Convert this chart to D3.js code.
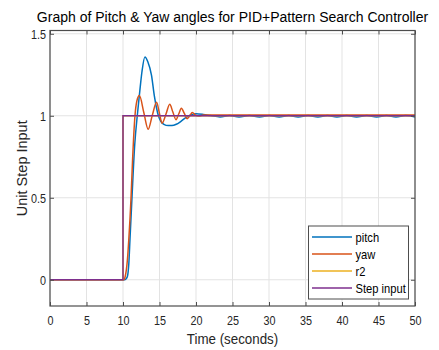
<!DOCTYPE html>
<html><head><meta charset="utf-8">
<script src="https://cdn.jsdelivr.net/npm/d3@7"></script>
<style>body{margin:0;background:#fff}svg{display:block}text{font-family:"Liberation Sans",Arial,sans-serif}</style>
</head><body>
<svg id="c" width="439" height="350"></svg>
<script>
const xTicks=[0,5,10,15,20,25,30,35,40,45,50];
const yTicks=[0,0.5,1,1.5];
const yTickLabels=["0","0.5","1","1.5"];
const seriesNames=["pitch","yaw","r2","Step input"];
const seriesColors=["#0072BD","#D95319","#EDB120","#7E2F8E"];

const pitchT=[0,10.2,10.4,10.6,10.8,10.96,11.23,11.6,12.0,12.3,12.6,13.0,13.4,13.9,14.3,14.6,14.85,15.2,15.6,16.2,16.7,17.3,17.9,18.5,19.2,20.0,21.0,22.0,23.3,24.6,25.9,27.3,28.7,30.05,31.4,32.7,34.0,35.35,36.7,38.0,39.3,40.65,42.0,43.4,44.75,46.1,47.4,48.7,50];
const pitchV=[0,0,0.005,0.02,0.1,0.25,0.5,0.82,1.02,1.15,1.27,1.359,1.33,1.248,1.12,1.046,1.0,0.965,0.948,0.94,0.94,0.948,0.965,0.985,1.003,1.012,1.008,1.001,0.993,1.001,0.993,1.001,0.993,1.001,0.993,1.001,0.993,1.001,0.993,1.001,0.993,1.001,0.993,1.001,0.993,1.001,0.993,1.001,0.993];

const yawT=[0,10.1,10.3,10.6,10.8,11.1,11.3,11.64,11.9,12.25,12.85,13.45,14.0,14.6,14.98,15.35,15.9,16.4,16.83,17.26,17.63,18.0,18.4,18.8,19.15,19.5,19.9,20.4,21.0,50];
const yawV=[0,0,0.02,0.12,0.25,0.5,0.72,1.0,1.09,1.123,1.02,0.918,1.0,1.082,1.018,0.955,1.012,1.07,1.023,0.976,1.011,1.046,1.014,0.982,1.0,1.02,1.005,0.998,1.004,1.004];

const r2T=[0,10,10,50];
const r2V=[0,0,1,1];
const stepT=[0,10,10,50];
const stepV=[0,0,1,1];

const svg=d3.select("#c");
const L=50,R=415,T=30.5,B=306;
const x=d3.scaleLinear().domain([0,50]).range([L,R]);
const y=d3.scaleLinear().domain([-0.16,1.52]).range([B,T]);
const axisCol="#4d4d4d";

svg.append("rect").attr("x",L).attr("y",T).attr("width",R-L).attr("height",B-T).attr("fill","#fff");
const g=svg.append("g");
g.selectAll(".gx").data(xTicks).enter().append("line")
 .attr("x1",d=>x(d)).attr("x2",d=>x(d)).attr("y1",T).attr("y2",B)
 .attr("stroke","#e3e3e3").attr("stroke-width",1);
g.selectAll(".gy").data(yTicks).enter().append("line")
 .attr("y1",d=>y(d)).attr("y2",d=>y(d)).attr("x1",L).attr("x2",R)
 .attr("stroke","#e3e3e3").attr("stroke-width",1);

svg.append("clipPath").attr("id","cp").append("rect").attr("x",L).attr("y",T).attr("width",R-L).attr("height",B-T);
const lineSmooth=d3.line().x(d=>x(d[0])).y(d=>y(d[1])).curve(d3.curveMonotoneX);
const lineStraight=d3.line().x(d=>x(d[0])).y(d=>y(d[1]));
const zip=(a,b)=>a.map((t,i)=>[t,b[i]]);
const pl=svg.append("g").attr("clip-path","url(#cp)");
pl.append("path").attr("d",lineSmooth(zip(pitchT,pitchV))).attr("fill","none").attr("stroke",seriesColors[0]).attr("stroke-width",1.5);
pl.append("path").attr("d",lineSmooth(zip(yawT,yawV))).attr("fill","none").attr("stroke",seriesColors[1]).attr("stroke-width",1.5);
pl.append("path").attr("d",lineStraight(zip(r2T,r2V))).attr("fill","none").attr("stroke",seriesColors[2]).attr("stroke-width",1.5);
pl.append("path").attr("d",lineStraight(zip(stepT,stepV))).attr("fill","none").attr("stroke",seriesColors[3]).attr("stroke-width",1.5);

const tl=4, sx=0.8;
const bx=svg.append("g").attr("transform",`translate(0,${B})`).call(d3.axisBottom(x).tickValues(xTicks).tickSize(-tl).tickPadding(9).tickFormat(d3.format("d")));
const tx=svg.append("g").attr("transform",`translate(0,${T})`).call(d3.axisTop(x).tickValues(xTicks).tickSize(-tl).tickFormat(""));
const ly=svg.append("g").attr("transform",`translate(${L},0)`).call(d3.axisLeft(y).tickValues(yTicks).tickSize(-tl).tickPadding(5).tickFormat((d,i)=>yTickLabels[i]));
const ry=svg.append("g").attr("transform",`translate(${R},0)`).call(d3.axisRight(y).tickValues(yTicks).tickSize(-tl).tickFormat(""));
[bx,tx,ly,ry].forEach(a=>{
  a.select(".domain").remove();
  a.selectAll("line").attr("stroke",axisCol);
  a.selectAll("text").attr("fill","#262626").style("font-size","13.5px").style("font-family","'Liberation Sans',Arial,sans-serif").attr("transform",`scale(${sx},1)`);
});
svg.append("rect").attr("x",L).attr("y",T).attr("width",R-L).attr("height",B-T).attr("fill","none").attr("stroke",axisCol).attr("stroke-width",1.2);

svg.append("text").attr("transform",`translate(${(L+R)/2},344) scale(0.92,1)`).attr("text-anchor","middle").style("font-size","14.5px").attr("fill","#262626").text("Time (seconds)");
svg.append("text").attr("transform",`translate(27,${(T+B)/2}) rotate(-90)`).attr("text-anchor","middle").style("font-size","14.5px").attr("fill","#262626").text("Unit Step Input");
svg.append("text").attr("x",(L+R)/2).attr("y",22).attr("text-anchor","middle").style("font-size","14px").attr("fill","#000").text("Graph of Pitch & Yaw angles for PID+Pattern Search Controller");

const lg=svg.append("g");
lg.append("rect").attr("x",308.5).attr("y",226).attr("width",100).attr("height",73).attr("fill","#fff").attr("stroke",axisCol).attr("stroke-width",1);
const ly0=237, ldy=17;
seriesNames.forEach((n,i)=>{
  lg.append("line").attr("x1",312).attr("x2",352).attr("y1",ly0+i*ldy).attr("y2",ly0+i*ldy).attr("stroke",seriesColors[i]).attr("stroke-width",1.5);
  lg.append("text").attr("transform",`translate(355.5,${ly0+i*ldy+4.5}) scale(0.86,1)`).style("font-size","13px").attr("fill","#000").text(n);
});
</script>
</body></html>
